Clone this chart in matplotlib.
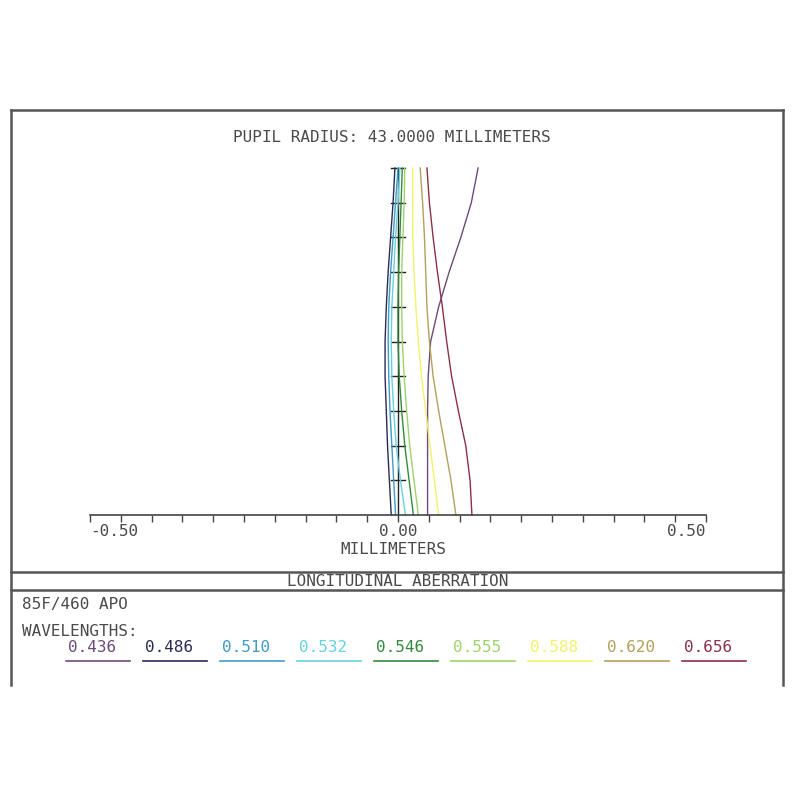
import matplotlib
matplotlib.use("Agg")
import matplotlib.pyplot as plt
from matplotlib.lines import Line2D

# relative pupil height (0 = axis, 1 = edge)
heights = [0.0, 0.1, 0.2, 0.3, 0.4, 0.5, 0.6, 0.7, 0.8, 0.9, 1.0]

# longitudinal focus shift in mm for each wavelength
wavelengths = ["0.436", "0.486", "0.510", "0.532", "0.546", "0.555", "0.588", "0.620", "0.656"]
shift_436 = [0.048, 0.048, 0.048, 0.048, 0.049, 0.053, 0.066, 0.083, 0.102, 0.119, 0.130]
shift_486 = [-0.011, -0.014, -0.017, -0.019, -0.021, -0.021, -0.019, -0.016, -0.012, -0.008, -0.005]
shift_510 = [-0.004, -0.007, -0.010, -0.013, -0.015, -0.016, -0.015, -0.012, -0.008, -0.004, 0.000]
shift_532 = [0.012, 0.004, -0.003, -0.007, -0.010, -0.011, -0.010, -0.007, -0.004, 0.000, 0.003]
shift_546 = [0.025, 0.018, 0.011, 0.006, 0.002, 0.000, 0.000, 0.001, 0.003, 0.005, 0.007]
shift_555 = [0.033, 0.026, 0.019, 0.014, 0.010, 0.007, 0.006, 0.006, 0.008, 0.010, 0.011]
shift_588 = [0.066, 0.059, 0.052, 0.045, 0.038, 0.033, 0.029, 0.026, 0.024, 0.024, 0.024]
shift_620 = [0.094, 0.086, 0.076, 0.066, 0.057, 0.051, 0.047, 0.045, 0.043, 0.040, 0.036]
shift_656 = [0.120, 0.117, 0.110, 0.098, 0.087, 0.079, 0.072, 0.064, 0.057, 0.051, 0.047]
shifts = [shift_436, shift_486, shift_510, shift_532, shift_546,
          shift_555, shift_588, shift_620, shift_656]
colors = ["#6e4a7c", "#2a2a55", "#3f9cc4", "#66d2e0", "#338a3c",
          "#9fd36a", "#f2f26a", "#b3a05a", "#8c3048"]

tick_vals = [-0.50, 0.00, 0.50]
tick_labels = ["-0.50", "0.00", "0.50"]

FONT = "DejaVu Sans Mono"
TXT = "#4a4a4a"
FS = 11.5

fig = plt.figure(figsize=(8, 8), dpi=100)
W = H = 800.0

def fx(x):
    return x / W

def fy(y):
    return 1 - y / H

# plot area: x from -0.5 (px 90) to 0.5 (px 706), h 0 (px 515) to 1 (px 168)
ax = fig.add_axes([fx(90), fy(515), 616 / W, 347 / H])
ax.set_xlim(-0.5, 0.5)
ax.set_ylim(0, 1)
for s in ["top", "left", "right"]:
    ax.spines[s].set_visible(False)
ax.spines["bottom"].set_color("#444444")
ax.spines["bottom"].set_linewidth(1.2)
ax.set_yticks([])
minor = [i * 0.05 - 0.5 for i in range(21)]
labs = []
for v in minor:
    lab = ""
    for tv, tl in zip(tick_vals, tick_labels):
        if abs(v - tv) < 1e-9:
            lab = tl
    labs.append(lab)
ax.set_xticks(minor)
ax.set_xticklabels(labs, fontfamily=FONT)
ax.tick_params(axis="x", direction="out", length=5, width=1, color="#444444",
               pad=1.5, labelsize=FS, labelcolor=TXT)
for t, lab in zip(ax.get_xticklabels(), labs):
    if lab == "-0.50":
        t.set_ha("left")
    elif lab == "0.50":
        t.set_ha("right")

# vertical axis with height ticks
ax.plot([0, 0], [0, 1], color="#222222", lw=1.0, clip_on=False, zorder=1)
for h in heights[1:]:
    ax.plot([-0.012, 0.012], [h, h], color="#222222", lw=1.0, clip_on=False, zorder=1)

for sh, c in zip(shifts, colors):
    ax.plot(sh, heights, color=c, lw=1.0, clip_on=False, zorder=2)

# frame
frame = dict(color="#555555", lw=1.8, transform=fig.transFigure)
fig.add_artist(Line2D([fx(11), fx(783)], [fy(110), fy(110)], **frame))
fig.add_artist(Line2D([fx(11), fx(11)], [fy(110), fy(685)], **frame))
fig.add_artist(Line2D([fx(783), fx(783)], [fy(110), fy(685)], **frame))
fig.add_artist(Line2D([fx(11), fx(783)], [fy(572), fy(572)], **frame))
fig.add_artist(Line2D([fx(11), fx(783)], [fy(590), fy(590)], **frame))

kw = dict(fontfamily=FONT, fontsize=FS, color=TXT)
fig.text(fx(392), fy(137), "PUPIL RADIUS: 43.0000 MILLIMETERS", ha="center", va="center", **kw)
fig.text(fx(393), fy(550), "MILLIMETERS", ha="center", va="center", **kw)
fig.text(fx(398), fy(581), "LONGITUDINAL ABERRATION", ha="center", va="center", **kw)
fig.text(fx(22), fy(604), "85F/460 APO", ha="left", va="center", **kw)
fig.text(fx(22), fy(631), "WAVELENGTHS:", ha="left", va="center", **kw)

for i, (wl, c) in enumerate(zip(wavelengths, colors)):
    x0 = 68 + 77 * i
    fig.text(fx(x0), fy(647), wl, ha="left", va="center",
             fontfamily=FONT, fontsize=FS, color=c)
    fig.add_artist(Line2D([fx(x0 - 2), fx(x0 + 62)], [fy(661), fy(661)],
                          color=c, lw=1.2, transform=fig.transFigure))

fig.savefig("out.png", dpi=100, facecolor="white")
